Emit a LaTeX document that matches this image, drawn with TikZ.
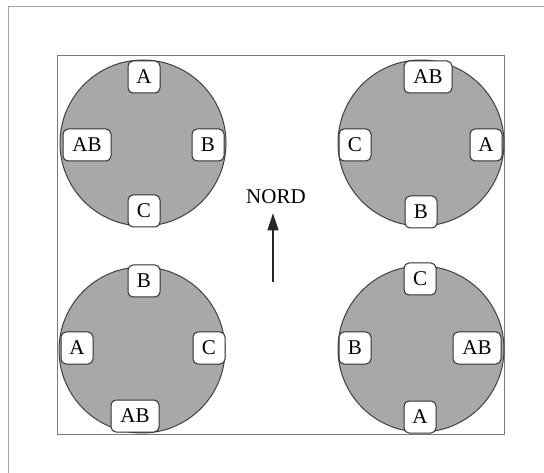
\documentclass[tikz,border=0pt]{standalone}
\usepackage{fontspec}
\setmainfont{Liberation Serif}
\usetikzlibrary{arrows.meta}

\definecolor{disk}{HTML}{A8A8A8}
\definecolor{diskedge}{HTML}{404040}
\definecolor{framecol}{HTML}{7A7A7A}
\definecolor{boxedge}{HTML}{303030}

\tikzset{
  disc/.style={circle, draw=diskedge, line width=1pt, fill=disk,
               minimum size=166pt, inner sep=0pt},
  tag/.style={draw=boxedge, fill=white, rounded corners=5pt, line width=1pt,
              minimum width=32pt, minimum height=32pt, inner sep=0pt,
              font=\fontsize{21}{25}\selectfont},
  widetag/.style={tag, minimum width=48pt},
  northarrow/.style={-{Triangle[length=17pt,width=11pt]}, line width=1.2pt, black!85},
}

\begin{document}
\begin{tikzpicture}[x=1pt, y=-1pt]
  \useasboundingbox (0,0) rectangle (544,473);

  % page frame (top and left edges) and the hall outline
  \draw[framecol!70, line width=1pt] (544,7) -- (8,7) -- (8,473);
  \node[draw=framecol, line width=1pt, inner sep=0pt, minimum width=447pt,
        minimum height=378pt] (hall) at (280.5,245) {};

  % four round tables
  \node[disc] (tl) at (143,143) {};
  \node[disc] (tr) at (421,143) {};
  \node[disc] (bl) at (142,350) {};
  \node[disc] (br) at (421,349) {};

  % seats, top-left table
  \node[tag]     (tlA)  at (144,77)  {A};
  \node[widetag] (tlAB) at (87,145)  {AB};
  \node[tag]     (tlB)  at (208,145) {B};
  \node[tag]     (tlC)  at (144,211) {C};

  % seats, top-right table
  \node[widetag] (trAB) at (428,77)  {AB};
  \node[tag]     (trC)  at (355,145) {C};
  \node[tag]     (trA)  at (486,145) {A};
  \node[tag]     (trB)  at (421,212) {B};

  % seats, bottom-left table
  \node[tag]     (blB)  at (144,281) {B};
  \node[tag]     (blA)  at (77,348)  {A};
  \node[tag]     (blC)  at (209,348) {C};
  \node[widetag] (blAB) at (135,416) {AB};

  % seats, bottom-right table
  \node[tag]     (brC)  at (420,279) {C};
  \node[tag]     (brB)  at (355,348) {B};
  \node[widetag] (brAB) at (477,348) {AB};
  \node[tag]     (brA)  at (420,417) {A};

  % north marker
  \node[inner sep=0pt, font=\fontsize{21}{25}\selectfont] (nord) at (276,197) {NORD};
  \coordinate (tail) at (273,282);
  \draw[northarrow, shorten >=9pt] (tail) -- (tail |- nord.south);
\end{tikzpicture}
\end{document}
